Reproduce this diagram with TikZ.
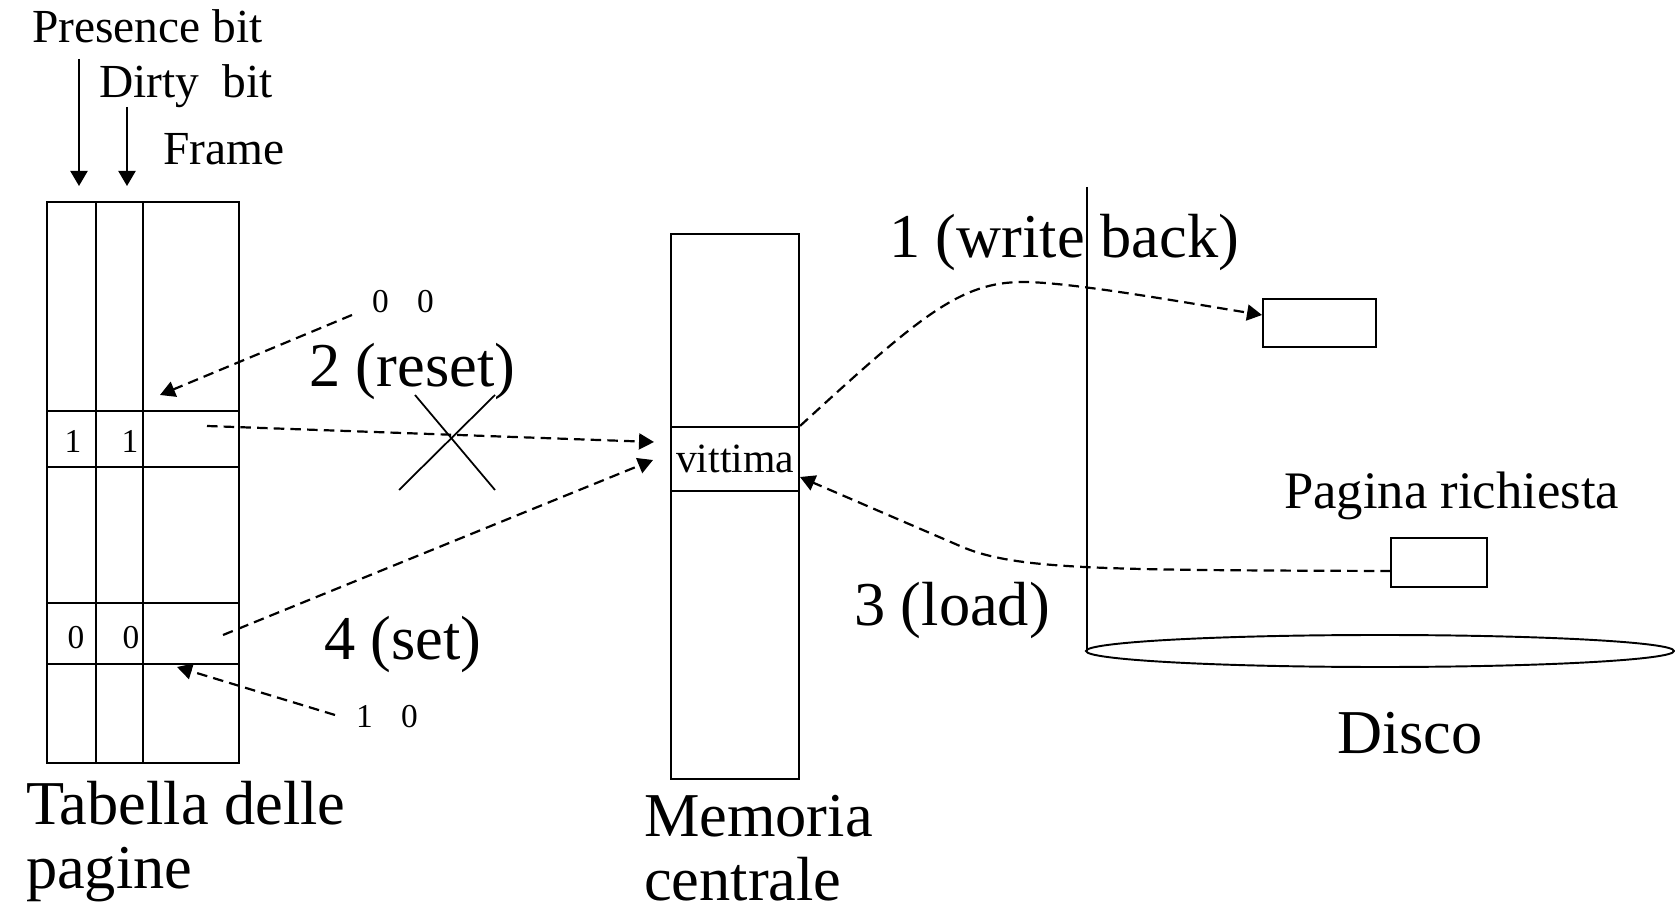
\documentclass[tikz,border=0pt]{standalone}
\usepackage{fontspec}
\setmainfont{Liberation Serif}
\usetikzlibrary{arrows.meta}

\begin{document}
\begin{tikzpicture}[x=0.02cm, y=0.02cm, line width=1.25pt,
    bigtxt/.style={inner sep=0pt, align=left, font=\fontsize{35.5}{36}\selectfont},
    midtxt/.style={inner sep=0pt, font=\fontsize{30}{36}\selectfont},
    smalltxt/.style={inner sep=0pt, font=\fontsize{27}{32}\selectfont},
    bittxt/.style={inner sep=0pt, font=\fontsize{19}{22}\selectfont},
    flow/.style={dash pattern=on 6pt off 3.5pt, -{Triangle[length=0.3cm, width=0.32cm]}},
    pointer/.style={-{Triangle[length=0.3cm, width=0.34cm]}}]

	\useasboundingbox (0,0) rectangle (1675,906);

	% column labels
	\node[smalltxt, anchor=base west] (presence) at (31,863) {Presence bit};
	\node[smalltxt, anchor=base west] (dirty) at (98,808) {Dirty\ \ bit};
	\node[smalltxt, anchor=base west] (frame) at (162,741) {Frame};
	\coordinate (presTop) at (79,847);
	\coordinate (presTip) at (79,720);
	\coordinate (dirtyTop) at (127,799);
	\coordinate (dirtyTip) at (127,720);
	\draw[pointer] (presTop) -- (presTip);
	\draw[pointer] (dirtyTop) -- (dirtyTip);

	% page table
	\draw (47,143) rectangle (239,704);
	\foreach \cx in {96,143}
		\draw (\cx,143) -- (\cx,704);
	\foreach \ry in {495,439,303,242}
		\draw (47,\ry) -- (239,\ry);
	\node[bittxt] (oldP) at (73,465) {1};
	\node[bittxt] (oldD) at (130,465) {1};
	\node[bittxt] (newP) at (76,268) {0};
	\node[bittxt] (newD) at (131,268) {0};
	\node[bigtxt, anchor=base west] (tablabel) at (25,18) {Tabella delle\\pagine};

	% main memory
	\draw (671,127) rectangle (799,672);
	\node[draw, minimum width=2.56cm, minimum height=1.28cm, inner sep=0pt,
		font=\fontsize{23.7}{28}\selectfont] (vic) at (735,447) {vittima};
	\node[bigtxt, anchor=base west] (memlabel) at (643,6) {Memoria\\centrale};

	% disk
	\draw[line width=1.1pt] (1087,719) -- (1087,255);
	\draw[line width=1.1pt] (1380,255) ellipse [x radius=294, y radius=16];
	\node[draw, minimum width=2.26cm, minimum height=0.96cm, inner sep=0pt] (wb) at (1319.5,583) {};
	\node[draw, minimum width=1.92cm, minimum height=0.98cm, inner sep=0pt] (pag) at (1439,343.5) {};
	\node[midtxt, anchor=base west] (paglabel) at (1283,397) {Pagina richiesta};
	\node[bigtxt, anchor=base west] (disklabel) at (1336,153) {Disco};

	% bit updates
	\node[bittxt] (zz) at (403,604) {0\hspace{0.85em}0};
	\node[bittxt] (oz) at (387,189) {1\hspace{0.85em}0};
	\coordinate (zzOut) at (352,591);
	\coordinate (oldIn) at (160,511);
	\coordinate (ozOut) at (335,191);
	\coordinate (newIn) at (177,239);
	\draw[flow] (zzOut) -- (oldIn);
	\draw[flow] (ozOut) -- (newIn);

	% steps
	\node[bigtxt, anchor=base west] (reset) at (308,519) {2 (reset)};
	\node[bigtxt, anchor=base west] (set) at (323,247) {4 (set)};
	\node[bigtxt, anchor=base west] (write) at (888,648) {1 (write back)};
	\node[bigtxt, anchor=base west] (load) at (853,280) {3 (load)};

	\coordinate (oldOut) at (207,480);
	\coordinate (resetIn) at (654,464);
	\coordinate (newOut) at (223,271);
	\coordinate (setIn) at (653,446);
	\draw[flow] (oldOut) -- (resetIn);
	\draw[flow] (newOut) -- (setIn);

	% crossed out link
	\draw[line width=1pt] (415,511) -- (495,416);
	\draw[line width=1pt] (495,511) -- (399,416);

	% write back and load
	\coordinate (wbIn) at (1262,591);
	\coordinate (pagOut) at (1391,335);
	\coordinate (loadBend) at (960,360);
	\coordinate (loadIn) at (800,429);
	\draw[flow] (vic.north east) .. controls (920,590) and (960,624) .. (1023,624)
		.. controls (1070,624) and (1182,604) .. (wbIn);
	\draw[flow] (pagOut) .. controls (1100,336) and (1015,336) .. (loadBend) -- (loadIn);

\end{tikzpicture}
\end{document}
